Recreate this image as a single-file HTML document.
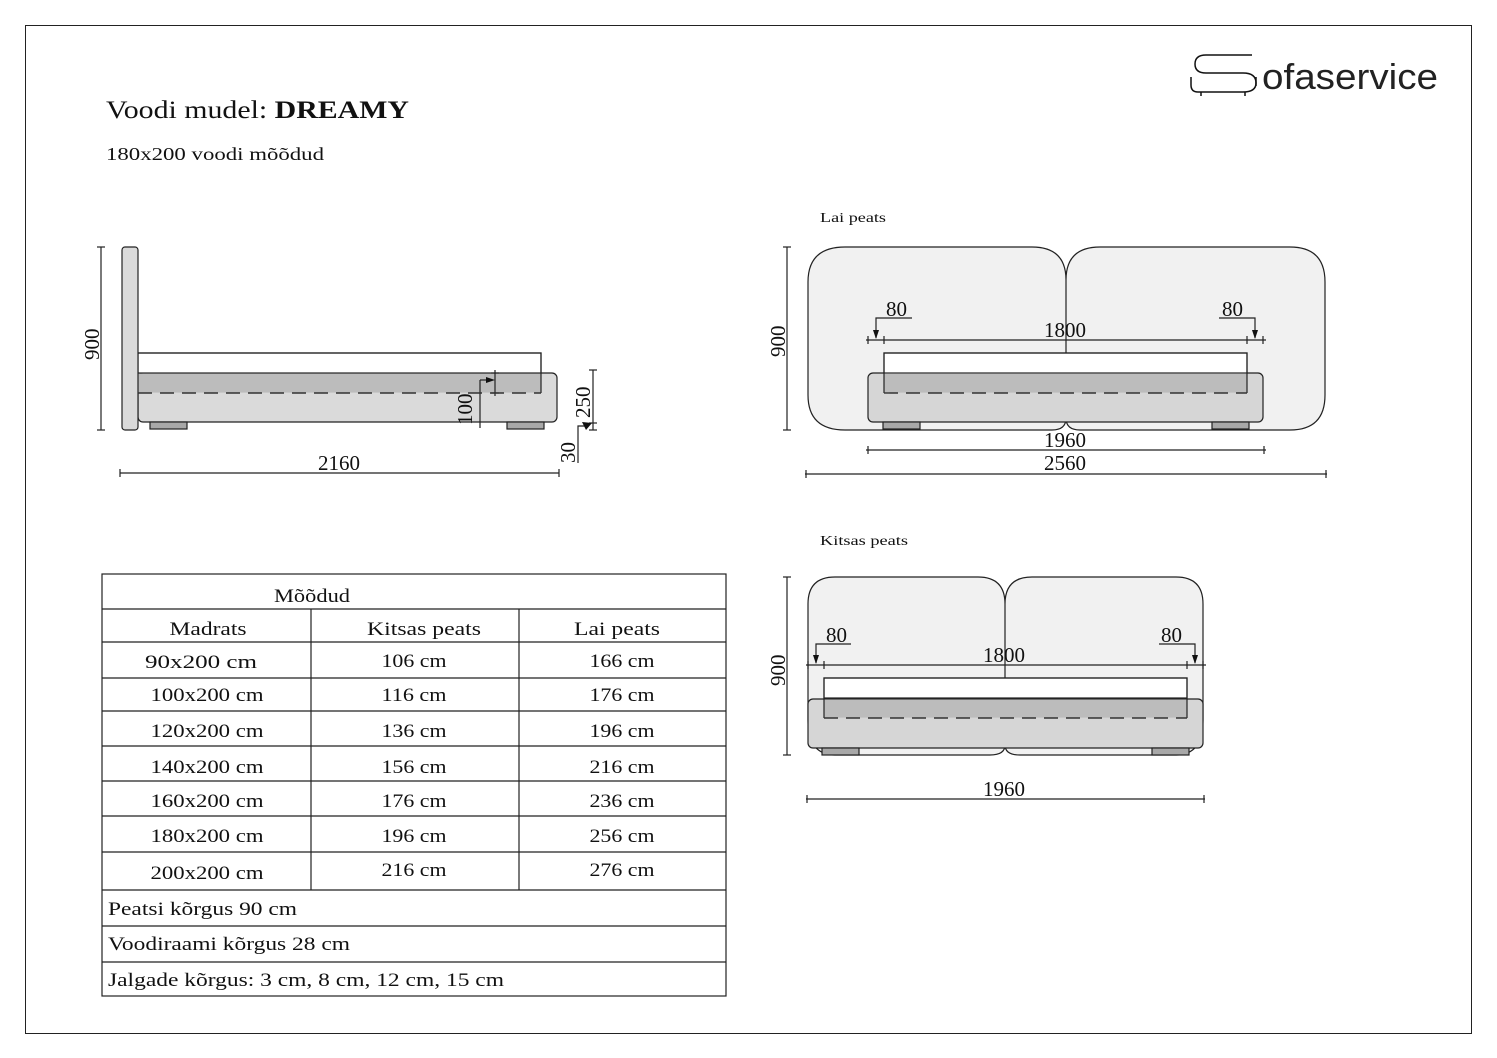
<!DOCTYPE html>
<html><head><meta charset="utf-8"><style>
body{margin:0;background:#fff}
svg{display:block}
text{font-family:"Liberation Serif",serif;fill:#111}
</style></head><body>
<svg width="1497" height="1058" viewBox="0 0 1497 1058" xmlns="http://www.w3.org/2000/svg">
<rect x="25.5" y="25.5" width="1446" height="1008" fill="none" stroke="#222" stroke-width="1"/>
<!-- logo -->
<g fill="none" stroke="#111" stroke-width="1.5">
<path d="M1252 55 H1206 Q1195 55 1195 64 Q1195 73 1206 73 H1243 Q1256 73 1256 83 Q1256 92 1243 92 H1198 Q1191 92 1191 85 V77"/>
<path d="M1256 77 V86 M1201 92 V96 M1245 92 V96"/>
</g>
<text x="1262" y="89" textLength="176" lengthAdjust="spacingAndGlyphs" style="font-family:'Liberation Sans',sans-serif;font-size:36px;fill:#222">ofaservice</text>
<text x="106" y="118" font-size="25" textLength="303" lengthAdjust="spacingAndGlyphs">Voodi mudel: <tspan font-weight="bold">DREAMY</tspan></text>
<text x="106" y="160" font-size="18" textLength="218" lengthAdjust="spacingAndGlyphs">180x200 voodi mõõdud</text>
<text x="820" y="222" font-size="14" textLength="66" lengthAdjust="spacingAndGlyphs">Lai peats</text>
<text x="820" y="545" font-size="14" textLength="88" lengthAdjust="spacingAndGlyphs">Kitsas peats</text>

<g stroke="#222" stroke-width="1.2">
<!-- SIDE VIEW -->
<rect x="138" y="373" width="419" height="49" rx="5" fill="#dadada"/>
<rect x="138" y="373.6" width="403" height="19" fill="#bcbcbc" stroke="none"/>
<rect x="138" y="353" width="403" height="20" fill="#fff"/>
<path d="M138 353 H541 V393" fill="none"/>
<rect x="122" y="247" width="16" height="183" rx="3" fill="#dadada"/>
<rect x="150" y="422" width="37" height="7" fill="#a8a8a8"/>
<rect x="507" y="422" width="37" height="7" fill="#a8a8a8"/>
<line x1="101" y1="247" x2="101" y2="430"/>
<line x1="97" y1="247" x2="105" y2="247"/><line x1="97" y1="430" x2="105" y2="430"/>
<line x1="120" y1="473" x2="559" y2="473"/>
<line x1="120" y1="469" x2="120" y2="477"/><line x1="559" y1="469" x2="559" y2="477"/>
<line x1="480" y1="380" x2="480" y2="428"/><line x1="480" y1="380" x2="492" y2="380"/>
<line x1="495" y1="370" x2="495" y2="396"/>
<line x1="491" y1="373" x2="499" y2="373"/>
<line x1="491" y1="393" x2="499" y2="393"/>
<line x1="593" y1="370" x2="593" y2="430"/>
<line x1="589" y1="370" x2="597" y2="370"/><line x1="589" y1="423" x2="597" y2="423"/><line x1="589" y1="430" x2="597" y2="430"/>
<polyline points="578,463 578,426 588,426" fill="none"/>

<!-- LAI PEATS -->
<path d="M845 247 H1032 Q1066 247 1066 280 Q1066 247 1100 247 H1290 Q1325 247 1325 282 V395 Q1325 430 1290 430 H1080 Q1066 430 1066 418 Q1066 430 1052 430 H845 Q808 430 808 395 V282 Q808 247 845 247 Z" fill="#f1f1f1"/>
<line x1="1066" y1="280" x2="1066" y2="353"/>
<rect x="868" y="373" width="395" height="49" rx="5" fill="#d6d6d6"/>
<rect x="884" y="353" width="363" height="20" fill="#fff"/>
<rect x="884" y="373.6" width="363" height="19" fill="#bcbcbc" stroke="none"/>
<path d="M884 393 V353 H1247 V393" fill="none"/>
<rect x="883" y="422" width="37" height="7" fill="#a8a8a8"/>
<rect x="1212" y="422" width="37" height="7" fill="#a8a8a8"/>
<line x1="787" y1="247" x2="787" y2="430"/>
<line x1="783" y1="247" x2="791" y2="247"/><line x1="783" y1="430" x2="791" y2="430"/>
<line x1="866" y1="340" x2="1266" y2="340"/>
<line x1="868" y1="336" x2="868" y2="344"/><line x1="884" y1="336" x2="884" y2="344"/>
<line x1="1247" y1="336" x2="1247" y2="344"/><line x1="1263" y1="336" x2="1263" y2="344"/>
<polyline points="912,318 876,318 876,338" fill="none"/>
<polyline points="1219,318 1255,318 1255,338" fill="none"/>
<line x1="866" y1="450" x2="1266" y2="450"/>
<line x1="868" y1="446" x2="868" y2="454"/><line x1="1264" y1="446" x2="1264" y2="454"/>
<line x1="805" y1="474" x2="1327" y2="474"/>
<line x1="806" y1="470" x2="806" y2="478"/><line x1="1326" y1="470" x2="1326" y2="478"/>

<!-- KITSAS PEATS -->
<path d="M835 577 H978 Q1005 577 1005 604 Q1005 577 1032 577 H1176 Q1203 577 1203 604 V720 Q1203 755 1176 755 H1020 Q1005 755 1005 745 Q1005 755 990 755 H835 Q808 755 808 720 V604 Q808 577 835 577 Z" fill="#f1f1f1"/>
<line x1="1005" y1="604" x2="1005" y2="678"/>
<rect x="808" y="699" width="395" height="49" rx="5" fill="#d6d6d6"/>
<rect x="824" y="678" width="363" height="20" fill="#fff"/>
<rect x="824" y="699.6" width="363" height="18" fill="#bcbcbc" stroke="none"/>
<path d="M824 718 V678 H1187 V718" fill="none"/>
<rect x="822" y="748" width="37" height="7" fill="#a8a8a8"/>
<rect x="1152" y="748" width="37" height="7" fill="#a8a8a8"/>
<line x1="787" y1="577" x2="787" y2="755"/>
<line x1="783" y1="577" x2="791" y2="577"/><line x1="783" y1="755" x2="791" y2="755"/>
<line x1="806" y1="665" x2="1206" y2="665"/>
<line x1="808" y1="661" x2="808" y2="669"/><line x1="824" y1="661" x2="824" y2="669"/>
<line x1="1187" y1="661" x2="1187" y2="669"/><line x1="1203" y1="661" x2="1203" y2="669"/>
<polyline points="851,644 816,644 816,663" fill="none"/>
<polyline points="1159,644 1195,644 1195,663" fill="none"/>
<line x1="806" y1="799" x2="1205" y2="799"/>
<line x1="807" y1="795" x2="807" y2="803"/><line x1="1204" y1="795" x2="1204" y2="803"/>
</g>
<!-- dashed lines on top -->
<g stroke="#333" stroke-width="1.4" stroke-dasharray="14 8" fill="none">
<line x1="138" y1="393" x2="541" y2="393"/>
<line x1="884" y1="393" x2="1247" y2="393"/>
<line x1="824" y1="718" x2="1187" y2="718"/>
</g>
<g fill="#111">
<polygon points="486,377 495,380 486,383"/>
<polygon points="873,330 879,330 876,339"/>
<polygon points="1252,330 1258,330 1255,339"/>
<polygon points="813,655 819,655 816,664"/>
<polygon points="1192,655 1198,655 1195,664"/>
<polygon points="582,422 592,423 586,430"/>
</g>
<g font-size="21">
<text x="0" y="0" transform="translate(99,360) rotate(-90)">900</text>
<text x="318" y="470">2160</text>
<text x="0" y="0" transform="translate(472,425) rotate(-90)">100</text>
<text x="0" y="0" transform="translate(590,418) rotate(-90)">250</text>
<text x="0" y="0" transform="translate(575,463) rotate(-90)">30</text>
<text x="0" y="0" transform="translate(785,357) rotate(-90)">900</text>
<text x="886" y="316">80</text><text x="1222" y="316">80</text>
<text x="1044" y="337">1800</text>
<text x="1044" y="447">1960</text>
<text x="1044" y="470">2560</text>
<text x="0" y="0" transform="translate(785,686) rotate(-90)">900</text>
<text x="826" y="642">80</text><text x="1161" y="642">80</text>
<text x="983" y="662">1800</text>
<text x="983" y="796">1960</text>
</g>

<!-- TABLE -->
<g stroke="#222" stroke-width="1.2" fill="none">
<rect x="102" y="574" width="624" height="422"/>
<line x1="102" y1="609" x2="726" y2="609"/>
<line x1="102" y1="642" x2="726" y2="642"/>
<line x1="102" y1="678" x2="726" y2="678"/>
<line x1="102" y1="711" x2="726" y2="711"/>
<line x1="102" y1="746" x2="726" y2="746"/>
<line x1="102" y1="781" x2="726" y2="781"/>
<line x1="102" y1="816" x2="726" y2="816"/>
<line x1="102" y1="852" x2="726" y2="852"/>
<line x1="102" y1="890" x2="726" y2="890"/>
<line x1="102" y1="926" x2="726" y2="926"/>
<line x1="102" y1="962" x2="726" y2="962"/>
<line x1="311" y1="609" x2="311" y2="890"/>
<line x1="519" y1="609" x2="519" y2="890"/>
</g>
<g font-size="19" text-anchor="middle" lengthAdjust="spacingAndGlyphs">
<text x="312" y="602" textLength="76" lengthAdjust="spacingAndGlyphs">Mõõdud</text>
<text x="208" y="635" textLength="77" lengthAdjust="spacingAndGlyphs">Madrats</text><text x="424" y="635" textLength="114" lengthAdjust="spacingAndGlyphs">Kitsas peats</text><text x="617" y="635" textLength="86" lengthAdjust="spacingAndGlyphs">Lai peats</text>
<text x="201" y="668" textLength="112" lengthAdjust="spacingAndGlyphs">90x200 cm</text><text x="414" y="667" textLength="65" lengthAdjust="spacingAndGlyphs">106 cm</text><text x="622" y="667" textLength="65" lengthAdjust="spacingAndGlyphs">166 cm</text>
<text x="207" y="701" textLength="113" lengthAdjust="spacingAndGlyphs">100x200 cm</text><text x="414" y="701" textLength="65" lengthAdjust="spacingAndGlyphs">116 cm</text><text x="622" y="701" textLength="65" lengthAdjust="spacingAndGlyphs">176 cm</text>
<text x="207" y="737" textLength="113" lengthAdjust="spacingAndGlyphs">120x200 cm</text><text x="414" y="737" textLength="65" lengthAdjust="spacingAndGlyphs">136 cm</text><text x="622" y="737" textLength="65" lengthAdjust="spacingAndGlyphs">196 cm</text>
<text x="207" y="773" textLength="113" lengthAdjust="spacingAndGlyphs">140x200 cm</text><text x="414" y="773" textLength="65" lengthAdjust="spacingAndGlyphs">156 cm</text><text x="622" y="773" textLength="65" lengthAdjust="spacingAndGlyphs">216 cm</text>
<text x="207" y="807" textLength="113" lengthAdjust="spacingAndGlyphs">160x200 cm</text><text x="414" y="807" textLength="65" lengthAdjust="spacingAndGlyphs">176 cm</text><text x="622" y="807" textLength="65" lengthAdjust="spacingAndGlyphs">236 cm</text>
<text x="207" y="842" textLength="113" lengthAdjust="spacingAndGlyphs">180x200 cm</text><text x="414" y="842" textLength="65" lengthAdjust="spacingAndGlyphs">196 cm</text><text x="622" y="842" textLength="65" lengthAdjust="spacingAndGlyphs">256 cm</text>
<text x="207" y="879" textLength="113" lengthAdjust="spacingAndGlyphs">200x200 cm</text><text x="414" y="876" textLength="65" lengthAdjust="spacingAndGlyphs">216 cm</text><text x="622" y="876" textLength="65" lengthAdjust="spacingAndGlyphs">276 cm</text>
</g>
<g font-size="19">
<text x="108" y="915" textLength="189" lengthAdjust="spacingAndGlyphs">Peatsi kõrgus 90 cm</text>
<text x="108" y="950" textLength="242" lengthAdjust="spacingAndGlyphs">Voodiraami kõrgus 28 cm</text>
<text x="108" y="986" textLength="396" lengthAdjust="spacingAndGlyphs">Jalgade kõrgus:  3 cm, 8 cm, 12 cm, 15 cm</text>
</g>
</svg>
</body></html>
